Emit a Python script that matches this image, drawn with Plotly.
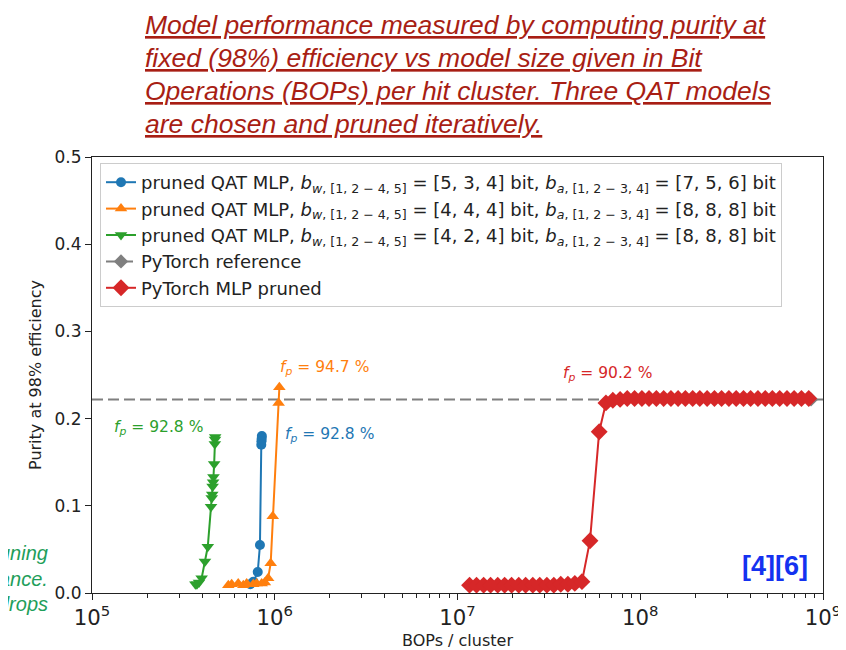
import math
import plotly.graph_objects as go

# ---------------- data ----------------
blue_bops = [8.50e5, 8.48e5, 8.46e5, 8.44e5, 8.30e5, 8.07e5, 7.65e5, 7.35e5]
blue_purity = [0.180, 0.177, 0.174, 0.170, 0.055, 0.024, 0.013, 0.010]

orange_bops = [1.06e6, 1.05e6, 9.75e5, 9.50e5, 9.20e5, 8.83e5, 8.48e5, 7.96e5,
               7.63e5, 7.02e5, 6.73e5, 6.31e5, 5.81e5, 5.57e5]
orange_purity = [0.236, 0.218, 0.088, 0.034, 0.017, 0.012, 0.011, 0.011,
                 0.010, 0.011, 0.009, 0.011, 0.010, 0.009]

green_bops = [4.72e5, 4.71e5, 4.70e5, 4.66e5, 4.62e5, 4.60e5, 4.57e5, 4.55e5,
              4.52e5, 4.48e5, 4.30e5, 4.15e5, 3.98e5, 3.85e5, 3.75e5, 3.68e5]
green_purity = [0.179, 0.176, 0.171, 0.148, 0.133, 0.127, 0.122, 0.113,
                0.109, 0.099, 0.053, 0.036, 0.017, 0.012, 0.010, 0.010]

ref_bops = [8.6e8]
ref_purity = [0.222]

red_bops = [1.164e7, 1.271e7, 1.390e7, 1.517e7, 1.660e7, 1.811e7, 1.977e7, 2.163e7,
            2.360e7, 2.582e7, 2.818e7, 3.083e7, 3.365e7, 3.673e7, 4.018e7, 4.385e7,
            4.797e7, 5.31e7, 5.96e7, 6.49e7,
            7.08e7, 7.76e7, 8.49e7, 9.31e7, 1.021e8, 1.117e8, 1.225e8, 1.343e8,
            1.472e8, 1.611e8, 1.766e8, 1.936e8, 2.118e8, 2.323e8, 2.547e8, 2.786e8,
            3.055e8, 3.350e8, 3.673e8, 4.018e8, 4.406e8, 4.831e8, 5.284e8, 5.794e8,
            6.353e8, 6.950e8, 7.621e8, 8.356e8]
red_purity = [0.009, 0.009, 0.009, 0.009, 0.009, 0.009, 0.009, 0.009,
              0.009, 0.009, 0.009, 0.009, 0.009, 0.010, 0.010, 0.011,
              0.013, 0.060, 0.185, 0.218,
              0.221, 0.222, 0.223, 0.223, 0.223, 0.223, 0.223, 0.223,
              0.223, 0.223, 0.223, 0.223, 0.223, 0.223, 0.223, 0.223,
              0.223, 0.223, 0.223, 0.223, 0.223, 0.223, 0.223, 0.223,
              0.223, 0.223, 0.223, 0.223]

legend_names = [
    "pruned QAT MLP, <i>b</i><sub><i>w</i>, [1, 2 − 4, 5]</sub> = [5, 3, 4] bit, <i>b</i><sub><i>a</i>, [1, 2 − 3, 4]</sub> = [7, 5, 6] bit",
    "pruned QAT MLP, <i>b</i><sub><i>w</i>, [1, 2 − 4, 5]</sub> = [4, 4, 4] bit, <i>b</i><sub><i>a</i>, [1, 2 − 3, 4]</sub> = [8, 8, 8] bit",
    "pruned QAT MLP, <i>b</i><sub><i>w</i>, [1, 2 − 4, 5]</sub> = [4, 2, 4] bit, <i>b</i><sub><i>a</i>, [1, 2 − 3, 4]</sub> = [8, 8, 8] bit",
    "PyTorch reference",
    "PyTorch MLP pruned",
]

fp_labels = ["92.8", "94.7", "92.8", "90.2"]
# label anchor positions in data units (BOPs, purity)
fp_pos = [(1.11e6, 0.181), (1.86e6, 0.258), (2.30e5, 0.189), (6.6e7, 0.251)]

title_lines = [
    "Model performance measured by computing purity at",
    "fixed (98%) efficiency vs model size given in Bit",
    "Operations (BOPs) per hit cluster. Three QAT models",
    "are chosen and pruned iteratively.",
]
side_lines = ["uning", "ance.", "drops"]

C_BLUE = "#1f77b4"
C_ORANGE = "#ff7f0e"
C_GREEN = "#2ca02c"
C_GRAY = "#7f7f7f"
C_RED = "#d62728"

# page offset (body margin) and plot-area geometry in screen pixels
L, R, T, B = 92, 823, 157, 593
OFF = 8
def px(x):
    return (x - L) / (R - L)
def py(y):
    return (B - y) / (B - T)

fig = go.Figure()
fig.add_trace(go.Scatter(x=blue_bops, y=blue_purity, mode="lines+markers", name=legend_names[0],
                         line=dict(color=C_BLUE, width=2),
                         marker=dict(symbol="circle", size=10, color=C_BLUE)))
fig.add_trace(go.Scatter(x=orange_bops, y=orange_purity, mode="lines+markers", name=legend_names[1],
                         line=dict(color=C_ORANGE, width=2),
                         marker=dict(symbol="triangle-up", size=11, color=C_ORANGE)))
fig.add_trace(go.Scatter(x=green_bops, y=green_purity, mode="lines+markers", name=legend_names[2],
                         line=dict(color=C_GREEN, width=2),
                         marker=dict(symbol="triangle-down", size=11, color=C_GREEN)))
fig.add_trace(go.Scatter(x=ref_bops, y=ref_purity, mode="lines+markers", name=legend_names[3],
                         line=dict(color=C_GRAY, width=2, dash="11px,5px"),
                         marker=dict(symbol="diamond", size=11, color=C_GRAY)))
fig.add_trace(go.Scatter(x=red_bops, y=red_purity, mode="lines+markers", name=legend_names[4],
                         line=dict(color=C_RED, width=2),
                         marker=dict(symbol="diamond", size=13, color=C_RED)))

fig.add_shape(type="line", xref="paper", x0=0, x1=1, yref="y", y0=ref_purity[0], y1=ref_purity[0],
              line=dict(color=C_GRAY, width=2, dash="11px,5px"), layer="below")

fp_colors = [C_BLUE, C_ORANGE, C_GREEN, C_RED]
fp_anchor = ["left", "center", "center", "center"]
for lab, (bx, by), col, xa in zip(fp_labels, fp_pos, fp_colors, fp_anchor):
    fig.add_annotation(x=math.log10(bx), y=by, xref="x", yref="y", showarrow=False,
                       text=f"<i>f</i><sub><i>p</i></sub> = {lab} %",
                       font=dict(color=col, size=15.5, family="DejaVu Sans"),
                       xanchor=xa, yanchor="middle")

for i, line in enumerate(title_lines):
    fig.add_annotation(x=px(143), y=py(25 + 33 * i), xref="paper", yref="paper",
                       showarrow=False, xanchor="left", yanchor="middle",
                       text=f"<i><u>{line}</u></i>",
                       font=dict(family="Liberation Sans", size=26.5, color="#a81e14"))

for i, line in enumerate(side_lines):
    fig.add_annotation(x=px(50), y=py(553 + 25.5 * i), xref="paper", yref="paper",
                       showarrow=False, xanchor="right", yanchor="middle",
                       text=f"<i>{line}</i>",
                       font=dict(family="Liberation Sans", size=20, color="#1e9e5a"))

fig.add_annotation(x=px(810), y=py(566), xref="paper", yref="paper",
                   showarrow=False, xanchor="right", yanchor="middle",
                   text="<b>[4][6]</b>",
                   font=dict(family="Liberation Sans", size=27, color="#1432f0"))

fig.update_layout(
    width=846, height=650,
    margin=dict(l=L - OFF, r=846 - (R - OFF), t=T - OFF, b=650 - (B - OFF), autoexpand=False),
    paper_bgcolor="white", plot_bgcolor="white",
    font=dict(family="DejaVu Sans", color="#222222"),
    showlegend=True,
    legend=dict(x=px(100), y=py(163), xanchor="left", yanchor="top",
                bgcolor="rgba(255,255,255,0.9)", bordercolor="#cccccc", borderwidth=1,
                font=dict(size=18, family="DejaVu Sans", color="#222222"),
                tracegroupgap=0, itemwidth=30),
    xaxis=dict(type="log", range=[5, 9], dtick=1, exponentformat="power",
               showline=True, linecolor="#222222", linewidth=1.2, mirror=True,
               ticks="outside", ticklen=6, tickwidth=1.2, tickcolor="#222222",
               showgrid=False, zeroline=False,
               tickfont=dict(size=17, family="DejaVu Sans", color="#222222"),
               minor=dict(ticks="outside", ticklen=3.5, tickwidth=1, tickcolor="#222222", showgrid=False),
               title=dict(text="BOPs / cluster", font=dict(size=16, family="DejaVu Sans", color="#222222"), standoff=6)),
    yaxis=dict(range=[0, 0.5], dtick=0.1, tickformat=".1f",
               showline=True, linecolor="#222222", linewidth=1.2, mirror=True,
               ticks="outside", ticklen=6, tickwidth=1.2, tickcolor="#222222",
               showgrid=False, zeroline=False,
               tickfont=dict(size=17, family="DejaVu Sans", color="#222222"),
               title=dict(text="Purity at 98% efficiency", font=dict(size=16, family="DejaVu Sans", color="#222222"), standoff=8)),
)

fig.write_html("out.html")
